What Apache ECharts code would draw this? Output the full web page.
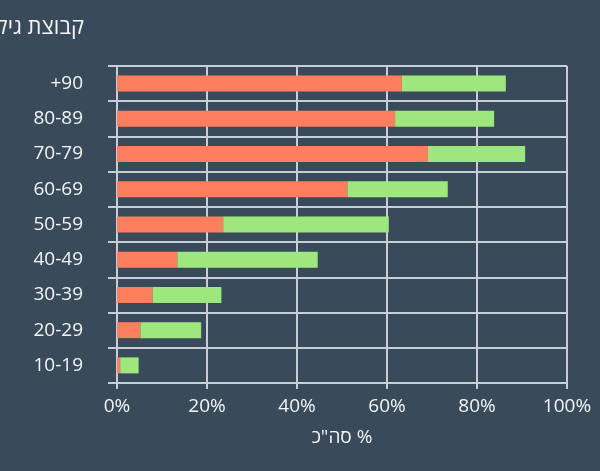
<!DOCTYPE html>
<html>
<head>
<meta charset="utf-8">
<script src="https://cdn.jsdelivr.net/npm/echarts@6/dist/echarts.min.js"></script>
<style>
html,body{margin:0;padding:0;background:#394b5b;}
#c{width:600px;height:471px;}
</style>
</head>
<body>
<div id="c"></div>
<script>
const categories = ['10-19','20-29','30-39','40-49','50-59','60-69','70-79','80-89','+90'];
const orangeValues = [0.7, 5.2, 7.9, 13.4, 23.6, 51.2, 69.1, 61.8, 63.3];
const greenValues = [4.1, 13.5, 15.3, 31.2, 36.8, 22.3, 21.6, 22.0, 23.1];
const xTicks = [0, 20, 40, 60, 80, 100];
const titleText = 'קבוצת גיל';
const xAxisName = 'סה"כ %';

const gridColor = '#c6cfd9';
const textColor = '#f2f4f6';
const font = '"Open Sans", "DejaVu Sans", sans-serif';

const chart = echarts.init(document.getElementById('c'));
chart.setOption({
  backgroundColor: '#394b5b',
  animation: false,
  graphic: [{
    type: 'text', x: 84, y: 28,
    style: { text: titleText, fill: textColor, font: '22px ' + font, align: 'right', verticalAlign: 'middle' }
  }],
  grid: { left: 117, right: 33, top: 66, bottom: 88, containLabel: false },
  xAxis: {
    type: 'value', min: xTicks[0], max: xTicks[xTicks.length - 1], interval: 20,
    name: xAxisName, nameLocation: 'middle', nameGap: 45,
    nameTextStyle: { color: textColor, fontSize: 19, fontFamily: font },
    axisLine: { show: true, lineStyle: { color: gridColor, width: 2 } },
    axisTick: { show: true, length: 6, lineStyle: { color: gridColor, width: 2 } },
    axisLabel: { color: textColor, fontSize: 19, fontFamily: font, margin: 14, formatter: '{value}%' },
    splitLine: { show: true, lineStyle: { color: gridColor, width: 2 } }
  },
  yAxis: {
    type: 'category', data: categories,
    axisLine: { show: true, lineStyle: { color: gridColor, width: 2 } },
    axisTick: { show: true, length: 9, lineStyle: { color: gridColor, width: 2 } },
    axisLabel: { color: textColor, fontSize: 19, fontFamily: font, margin: 34 },
    splitLine: { show: true, lineStyle: { color: gridColor, width: 2 } }
  },
  series: [
    { type: 'bar', stack: 'a', data: orangeValues, barWidth: 16, itemStyle: { color: '#fd7f5e' } },
    { type: 'bar', stack: 'a', data: greenValues, barWidth: 16, itemStyle: { color: '#9de77e' } }
  ]
});
</script>
</body>
</html>
